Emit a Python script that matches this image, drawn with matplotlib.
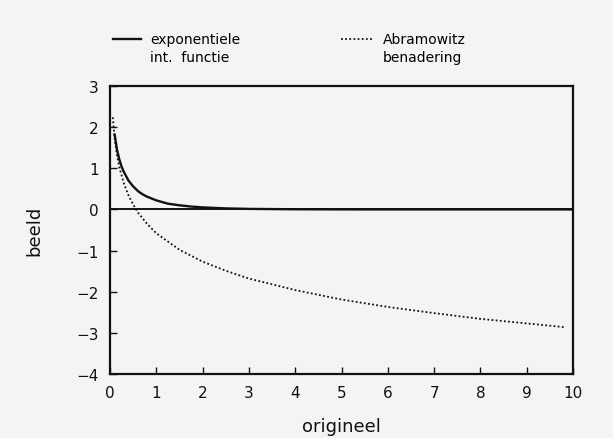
import numpy as np
import matplotlib.pyplot as plt

plt.rcParams["font.family"] = "sans-serif"
plt.rcParams["font.sans-serif"] = ["DejaVu Sans"]

# exponentiele integraalfunctie E1(x)
x_e1 = [0.1, 0.15, 0.2, 0.25, 0.3, 0.4, 0.5, 0.6, 0.7, 0.8, 1.0, 1.25, 1.5,
        1.75, 2.0, 2.5, 3.0, 4.0, 5.0, 6.0, 8.0, 10.0]
y_e1 = [1.82, 1.46, 1.22, 1.04, 0.91, 0.70, 0.56, 0.45, 0.37, 0.31, 0.22,
        0.14, 0.10, 0.07, 0.05, 0.025, 0.013, 0.004, 0.001, 0.0004, 0.0, 0.0]

# Abramowitz benadering
x_ab = [0.06, 0.1, 0.15, 0.2, 0.3, 0.4, 0.5, 0.6, 0.8, 1.0, 1.5, 2.0, 2.5,
        3.0, 4.0, 5.0, 6.0, 7.0, 8.0, 9.0, 9.8]
y_ab = [2.24, 1.73, 1.32, 1.03, 0.63, 0.34, 0.12, -0.07, -0.35, -0.58,
        -0.98, -1.27, -1.49, -1.68, -1.96, -2.19, -2.37, -2.52, -2.66,
        -2.77, -2.86]

xticks = list(range(0, 11))
yticks = [-4, -3, -2, -1, 0, 1, 2, 3]

bg = "#f4f4f4"
fig = plt.figure(figsize=(6.13, 4.39), dpi=100, facecolor=bg)
ax = fig.add_axes([110 / 613, 1 - 375 / 439, 463 / 613, 288 / 439])
ax.set_facecolor(bg)

ax.axhline(0, color="#111111", lw=1.4)
ax.plot(x_e1, y_e1, color="#111111", lw=1.7)
ax.plot(x_ab, y_ab, color="#111111", lw=1.3, linestyle=(0, (1, 1.3)))

ax.set_xlim(0, 10)
ax.set_ylim(-4, 3)
ax.set_xticks(xticks)
ax.set_yticks(yticks)
ax.set_yticklabels([f"\u2212{-t}" if t < 0 else str(t) for t in yticks])
ax.tick_params(direction="in", length=5, width=1.0, labelsize=11,
               colors="#111111", pad=8)
for sp in ax.spines.values():
    sp.set_linewidth(1.6)
    sp.set_color("#111111")

ax.set_xlabel("origineel", fontsize=13, labelpad=12, color="#111111")
ax.set_ylabel("beeld", fontsize=13, labelpad=24, color="#111111")

# legenda boven de grafiek
fig.add_artist(plt.Line2D([113 / 613, 141 / 613], [1 - 40 / 439] * 2,
                          color="#111111", lw=1.7))
fig.text(150 / 613, 1 - 40 / 439, "exponentiele", fontsize=10, va="center")
fig.text(150 / 613, 1 - 58 / 439, "int.  functie", fontsize=10, va="center")
fig.add_artist(plt.Line2D([341 / 613, 374 / 613], [1 - 40 / 439] * 2,
                          color="#111111", lw=1.3, linestyle=(0, (1, 1.3))))
fig.text(383 / 613, 1 - 40 / 439, "Abramowitz", fontsize=10, va="center")
fig.text(383 / 613, 1 - 58 / 439, "benadering", fontsize=10, va="center")

fig.savefig("out.png", dpi=100, facecolor=bg)
